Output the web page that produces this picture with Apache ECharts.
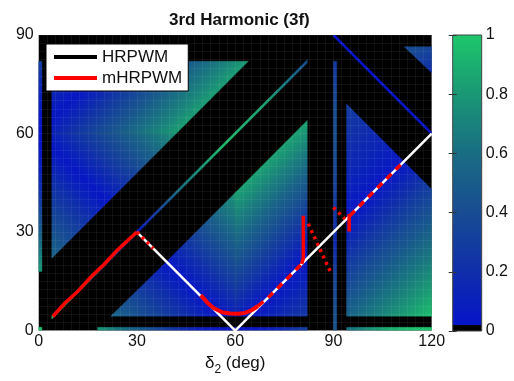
<!DOCTYPE html>
<html><head><meta charset="utf-8">
<script src="https://cdn.jsdelivr.net/npm/echarts@6/dist/echarts.min.js"></script>
<style>html,body{margin:0;padding:0;background:#fff}#c{width:514px;height:381px}</style>
</head><body><div id="c"></div>
<script>
// ---------------- data (degrees / harmonic magnitude) ----------------
const xTicks = [0, 30, 60, 90, 120];      // delta_2
const yTicks = [0, 30, 60, 90];           // delta_1
const cbTicks = [0, 0.2, 0.4, 0.6, 0.8, 1];

// HRPWM solution path
const hrpwmPath = [[30, 30], [60, 0], [120, 60]];
// mHRPWM solution pieces
const mhDiag    = [[4.3, 4.3], [8, 8.4], [12, 12], [16, 16.4], [20, 20.2], [24, 24.5], [28, 28.2], [30, 30]];
const mhDotA    = [[30, 30], [35, 25]];
const mhCurve   = [[49.5, 10.8], [51.5, 8.5], [53.5, 6.8], [56, 5.6], [58.5, 5.2], [61, 5.1], [63, 5.4], [65, 6.2], [67, 7.5]];
const mhDashA   = [[67, 7.5], [70, 10], [73, 13], [76.5, 16.5], [80.3, 20.3]];
const mhRiseA   = [[80.3, 20.3], [80.8, 22], [80.8, 35]];
const mhDotB    = [[82.3, 32.5], [89.5, 17]];
const mhDotC    = [[90, 37.5], [93.5, 34]];
const mhRiseB   = [[94.8, 35.5], [94.8, 30.2]];
const mhDashB   = [[95, 35], [111, 51]];

// Valid-region patches of the 3rd-harmonic map: polygon (deg), gradient axis (from -> to, deg),
// magnitude read along that axis (evenly spaced). Everything else is black (excluded).
const patchUL1 = {poly: [[4, 22], [4, 56], [21, 39]],                         axis: [[13, 47], [-4, 30]], vals: [0.02, 0.55]};
const patchUL2 = {poly: [[4, 64], [4, 82], [22, 82]],                         axis: [[13, 73], [4, 82]],  vals: [0.02, 0.24]};
const patchUL3 = {poly: [[4, 56], [21, 39], [42, 60], [4, 60]],               axis: [[21, 39], [42, 60]], vals: [0.02, 0.76]};
const patchUL4 = {poly: [[4, 60], [42, 60], [64, 82], [22, 82], [4, 64]],     axis: [[22, 82], [43, 61]], vals: [0.02, 0.82]};
const patchM1  = {poly: [[22, 4.4], [55.6, 4.4], [39, 21]],                   axis: [[39, 21], [22, 4]],  vals: [0.02, 0.55]};
const patchM2  = {poly: [[39, 21], [55.6, 4.4], [60, 4.4], [60, 42]],         axis: [[39, 21], [60, 42]], vals: [0.02, 0.78]};
const patchM3  = {poly: [[60, 4.4], [64.4, 4.4], [82, 22], [82, 64], [60, 42]], axis: [[82, 22], [61, 43]], vals: [0.02, 0.84]};
const patchM4  = {poly: [[64.4, 4.4], [82, 4.4], [82, 22]],                   axis: [[73, 13], [82, 4]],  vals: [0.02, 0.26]};
const patchR1  = {poly: [[94, 34], [94, 69], [111.5, 51.5]],                  axis: [[94, 34], [76.5, 51.5]], vals: [0.02, 0.28]};
const patchR2  = {poly: [[94, 4.4], [94, 34], [111.5, 51.5], [120, 43], [120, 4.4]], axis: [[94, 34], [122, 6]], vals: [0.02, 0.97]};
const patchT   = {poly: [[111.6, 86.4], [120, 86.4], [120, 78.5]],            axis: [[120, 78.5], [116, 86.4]], vals: [0.18, 0.38]};
const stripB0  = {poly: [[0, 0], [1, 0], [1, 1], [0, 1]],                     axis: [[0, 0], [1, 0]],     vals: [0.97, 0.97]};
const stripB1  = {poly: [[18, 0], [82, 0], [82, 1], [18, 1]],                 axis: [[18, 0], [82, 0]],   vals: [0.79, 0.6, 0.4, 0.21, 0.07, 0.01, 0.03, 0.13, 0.3]};
const stripB2  = {poly: [[94, 0], [120, 0], [120, 1], [94, 1]],               axis: [[94, 0], [120, 0]],  vals: [0.6, 0.76, 0.89, 0.97, 1.0]};
const stripL   = {poly: [[0, 18], [1, 18], [1, 82], [0, 82]],                 axis: [[0, 18], [0, 82]],   vals: [0.79, 0.6, 0.4, 0.21, 0.07, 0.01, 0.03, 0.13, 0.3]};
const stripV90 = {poly: [[90, 0], [91, 0], [91, 82], [90, 82]],               axis: [[90, 0], [90, 82]],  vals: [0.45, 0.38, 0.15, 0.3, 0.42, 0.4, 0.25]};
const stripDiag = {poly: [[4, 3.5], [82, 81.5], [82, 82.5], [4, 4.5]],        axis: [[4, 4], [82, 82]],   vals: [0.95, 0.6, 0.03, 0.6, 0.95, 0.85, 0.4]};
const stripAnti = {poly: [[90, 89.5], [120, 59.5], [120, 60.5], [90, 90.5]],  axis: [[90, 90], [120, 60]], vals: [0.0, 0.0]};

const patches = [patchUL1, patchUL2, patchUL3, patchUL4, patchM1, patchM2, patchM3, patchM4,
  patchR1, patchR2, patchT, stripB0, stripB1, stripB2, stripL, stripV90, stripDiag, stripAnti];

// ---------------- colour map (style) ----------------
const cmap = [[0, [6, 20, 200]], [0.2, [16, 48, 168]], [0.4, [24, 78, 145]], [0.6, [25, 110, 130]], [0.8, [26, 152, 116]], [1, [30, 198, 108]]];
function colorOf(v) {
  v = Math.max(0, Math.min(1, v));
  for (let i = 1; i < cmap.length; i++) {
    if (v <= cmap[i][0]) {
      const a = cmap[i - 1][0], ca = cmap[i - 1][1], b = cmap[i][0], cb = cmap[i][1];
      const t = (v - a) / (b - a);
      return 'rgb(' + ca.map((c, k) => Math.round(c + (cb[k] - c) * t)).join(',') + ')';
    }
  }
  return 'rgb(30,198,108)';
}
function gradStops(vals) {
  const stops = [], n = vals.length;
  if (n === 1) return [{offset: 0, color: colorOf(vals[0])}, {offset: 1, color: colorOf(vals[0])}];
  for (let i = 0; i < n - 1; i++) for (let k = 0; k < 6; k++) {
    const t = k / 6;
    stops.push({offset: (i + t) / (n - 1), color: colorOf(vals[i] + (vals[i + 1] - vals[i]) * t)});
  }
  stops.push({offset: 1, color: colorOf(vals[n - 1])});
  return stops;
}

const FONT = 'Liberation Sans, Arial, sans-serif';
const chart = echarts.init(document.getElementById('c'), null, {renderer: 'canvas'});

function lineSeries(name, data, color, width, type, z) {
  return {name: name, type: 'line', data: data, xAxisIndex: 0, yAxisIndex: 0, symbol: 'none',
    lineStyle: {color: color, width: width, type: type, cap: 'butt'}, itemStyle: {color: color},
    z: z, silent: true, animation: false};
}

const option = {
  animation: false,
  title: {text: '3rd Harmonic (3f)', left: 164, top: 7,
    textStyle: {fontSize: 17, fontWeight: 'bold', fontFamily: FONT, color: '#111'}},
  legend: {
    left: 46, top: 44, orient: 'vertical', z: 10,
    backgroundColor: '#fff', borderColor: '#000', borderWidth: 1, borderRadius: 0,
    padding: [3, 6, 3, 8], itemGap: 1, itemWidth: 43, itemHeight: 4,
    textStyle: {fontSize: 17, fontFamily: FONT, color: '#111', lineHeight: 20},
    data: [
      {name: 'HRPWM', icon: 'rect', itemStyle: {color: '#000'}},
      {name: 'mHRPWM', icon: 'rect', itemStyle: {color: '#ff0000'}}
    ]
  },
  grid: [
    {left: 38.7, top: 35, width: 393, height: 296, show: true, backgroundColor: '#000', borderWidth: 0},
    {left: 452.7, top: 35, width: 29, height: 296, show: false}
  ],
  xAxis: [
    {type: 'value', gridIndex: 0, min: xTicks[0], max: xTicks[xTicks.length - 1], interval: 30, z: 3,
      axisLine: {show: false}, axisTick: {show: false},
      axisLabel: {fontSize: 16, fontFamily: FONT, color: '#111', margin: 3},
      splitLine: {show: true, lineStyle: {color: 'rgba(255,255,255,0.06)', width: 1}},
      minorTick: {show: false, splitNumber: 12},
      minorSplitLine: {show: true, lineStyle: {color: 'rgba(255,255,255,0.06)', width: 1}},
      name: '{a|δ}{s|2}{a| (deg)}', nameLocation: 'middle', nameGap: 11,
      nameTextStyle: {rich: {a: {fontSize: 17, fontFamily: FONT, color: '#111'}, s: {fontSize: 12, fontFamily: FONT, color: '#111', verticalAlign: 'top', padding: [14, 0, 0, 0]}}}
    },
    {type: 'value', gridIndex: 1, min: 0, max: 1, show: false}
  ],
  yAxis: [
    {type: 'value', gridIndex: 0, min: yTicks[0], max: yTicks[yTicks.length - 1], interval: 30, z: 3,
      axisLine: {show: false}, axisTick: {show: false},
      axisLabel: {fontSize: 16, fontFamily: FONT, color: '#111', margin: 5},
      splitLine: {show: true, lineStyle: {color: 'rgba(255,255,255,0.06)', width: 1}},
      minorTick: {show: false, splitNumber: 12},
      minorSplitLine: {show: true, lineStyle: {color: 'rgba(255,255,255,0.06)', width: 1}}
    },
    {type: 'value', gridIndex: 1, min: cbTicks[0], max: cbTicks[cbTicks.length - 1], interval: 0.2, position: 'right', z: 4,
      axisLine: {show: false}, axisTick: {show: true, inside: true, length: 4, lineStyle: {color: '#333'}},
      axisLabel: {fontSize: 16, fontFamily: FONT, color: '#111', margin: 4}, splitLine: {show: false}},
    {type: 'value', gridIndex: 1, min: 0, max: 1, interval: 0.2, position: 'left', z: 4,
      axisLine: {show: false}, axisTick: {show: true, inside: true, length: 4, lineStyle: {color: '#333'}},
      axisLabel: {show: false}, splitLine: {show: false}}
  ],
  series: [
    {type: 'custom', name: 'field', xAxisIndex: 0, yAxisIndex: 0, z: 1, silent: true, clip: true,
      data: patches.map(p => p.poly[0]),
      renderItem: function (params, api) {
        const p = patches[params.dataIndex];
        const pts = p.poly.map(q => api.coord(q));
        const a = api.coord(p.axis[0]), b = api.coord(p.axis[1]);
        const g = new echarts.graphic.LinearGradient(a[0], a[1], b[0], b[1], gradStops(p.vals), true);
        return {type: 'polygon', shape: {points: pts}, style: {fill: g, stroke: g, lineWidth: 0.4}};
      }
    },
    {type: 'custom', name: 'colorbar', xAxisIndex: 1, yAxisIndex: 1, z: 1, silent: true,
      data: [[0, 0]],
      renderItem: function (params, api) {
        const p0 = api.coord([0, 0]), p1 = api.coord([1, 1]);
        const stops = [{offset: 0, color: '#000'}, {offset: 0.02, color: '#000'}, {offset: 0.0201, color: colorOf(0.0)}];
        for (let i = 1; i <= 20; i++) stops.push({offset: 0.02 + 0.98 * i / 20, color: colorOf(i / 20)});
        const g = new echarts.graphic.LinearGradient(0, p0[1], 0, p1[1], stops, true);
        return {type: 'rect', shape: {x: p0[0], y: p1[1], width: p1[0] - p0[0], height: p0[1] - p1[1]},
          style: {fill: g, stroke: '#444', lineWidth: 1}};
      }
    },
    lineSeries('HRPWM', hrpwmPath, '#ffffff', 2.5, 'solid', 5),
    lineSeries('mHRPWM', mhDiag, '#ff0000', 3.5, 'solid', 6),
    lineSeries('mHRPWM', mhDotA, '#ff0000', 3.5, [3, 4], 6),
    lineSeries('mHRPWM', mhCurve, '#ff0000', 4, 'solid', 6),
    lineSeries('mHRPWM', mhDashA, '#ff0000', 3.5, [7, 6], 6),
    lineSeries('mHRPWM', mhRiseA, '#ff0000', 3.5, 'solid', 6),
    lineSeries('mHRPWM', mhDotB, '#ff0000', 3.5, [3, 4], 6),
    lineSeries('mHRPWM', mhDotC, '#ff0000', 3.5, [3, 4], 6),
    lineSeries('mHRPWM', mhRiseB, '#ff0000', 3.5, 'solid', 6),
    lineSeries('mHRPWM', mhDashB, '#ff0000', 3.5, [7, 6], 6)
  ]
};
chart.setOption(option);
</script></body></html>
